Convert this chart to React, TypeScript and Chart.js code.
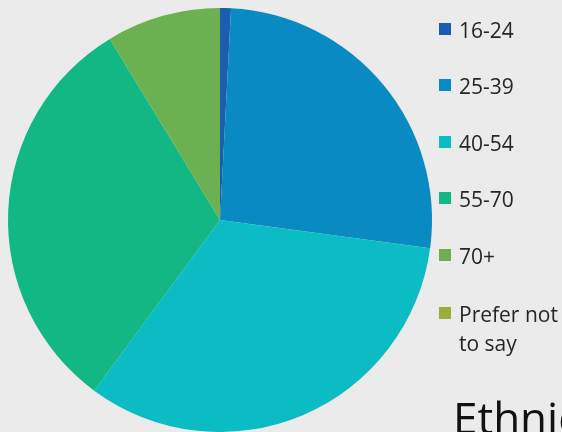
import React, { useEffect, useRef } from "react";
import { Chart, registerables } from "chart.js";

Chart.register(...registerables);

const categories = ["16-24", "25-39", "40-54", "55-70", "70+", "Prefer not to say"];
const legendLines = [["16-24"], ["25-39"], ["40-54"], ["55-70"], ["70+"], ["Prefer not", "to say"]];
const values = [0.83, 26.3, 33.0, 31.2, 8.7, 0];
const colors = ["#1B5DB0", "#0A8AC2", "#0CBCC5", "#13B783", "#6BB152", "#9AAF3A"];
const legendBaselines = [37, 93, 150, 206, 263, 321];
const titleText = "Ethnic";

const FONT = "'Open Sans', 'Liberation Sans', sans-serif";

export default function App() {
  const ref = useRef<HTMLCanvasElement | null>(null);

  useEffect(() => {
    document.body.style.margin = "0";
    document.body.style.overflow = "hidden";
    if (!ref.current) return;
    const chart = new Chart(ref.current, {
      type: "pie",
      data: {
        labels: categories,
        datasets: [
          {
            data: values,
            backgroundColor: colors,
            borderWidth: 0,
          },
        ],
      },
      options: {
        animation: false,
        responsive: false,
        maintainAspectRatio: false,
        layout: { padding: { left: 8, top: 8, right: 130, bottom: 0 } },
        plugins: {
          legend: { display: false },
          tooltip: { enabled: false },
        },
      },
    });
    return () => chart.destroy();
  }, []);

  return (
    <div
      style={{
        position: "relative",
        width: 562,
        height: 432,
        overflow: "hidden",
        background: "#EBEBEB",
        fontFamily: FONT,
      }}
    >
      <canvas ref={ref} width={562} height={432} style={{ position: "absolute", left: 0, top: 0 }} />
      {legendLines.map((lines, i) => (
        <React.Fragment key={i}>
          <div
            style={{
              position: "absolute",
              left: 439,
              top: legendBaselines[i] - 14,
              width: 12,
              height: 12,
              background: colors[i],
            }}
          />
          <div
            style={{
              position: "absolute",
              left: 459,
              top: legendBaselines[i] - 21,
              fontSize: 21,
              lineHeight: "29px",
              color: "#262626",
              whiteSpace: "nowrap",
            }}
          >
            {lines.map((l, j) => (
              <div key={j}>{l}</div>
            ))}
          </div>
        </React.Fragment>
      ))}
      <div
        style={{
          position: "absolute",
          left: 453,
          top: 387,
          fontSize: 44,
          lineHeight: "60px",
          color: "#111111",
          whiteSpace: "nowrap",
        }}
      >
        {titleText}
      </div>
    </div>
  );
}
